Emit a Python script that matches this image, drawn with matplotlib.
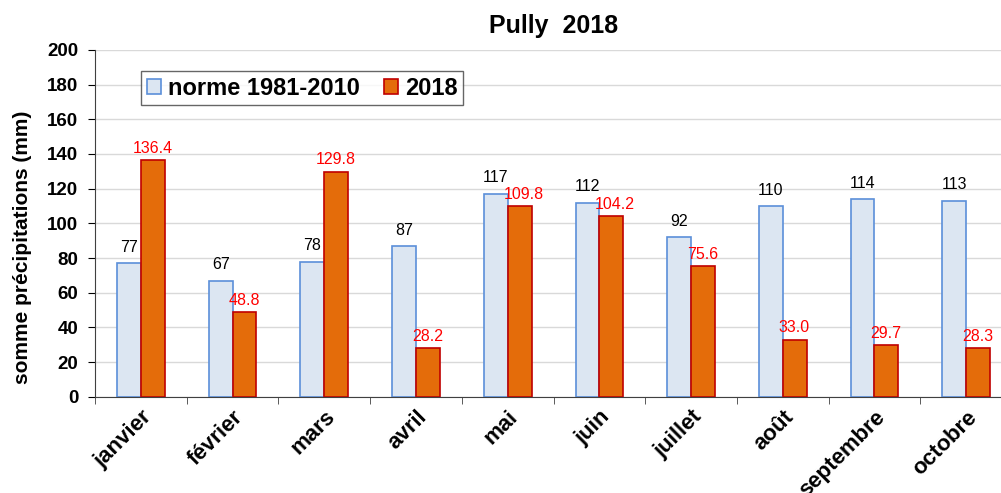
import matplotlib.pyplot as plt
import numpy as np

mois = ['janvier', 'février', 'mars', 'avril', 'mai', 'juin',
        'juillet', 'août', 'septembre', 'octobre']
norme = [77, 67, 78, 87, 117, 112, 92, 110, 114, 113]
annee_2018 = [136.4, 48.8, 129.8, 28.2, 109.8, 104.2, 75.6, 33.0, 29.7, 28.3]

plt.rcParams['font.family'] = ['Liberation Sans', 'DejaVu Sans']

fig = plt.figure(figsize=(10.01, 4.93), dpi=100)
ax = fig.add_axes([0.095, 0.195, 0.916, 0.704])

x = np.arange(len(mois))
w = 0.26
ax.bar(x - w / 2, norme, w, color='#dce6f2', edgecolor='#5b8fd9',
       linewidth=1.2, label='norme 1981-2010')
ax.bar(x + w / 2, annee_2018, w, color='#e46c0a', edgecolor='#c00000',
       linewidth=1.2, label='2018')

# étiquettes de valeurs
for i in range(len(mois)):
    ax.annotate(f'{norme[i]:g}', (x[i] - w / 2, norme[i]), xytext=(0, 6),
                textcoords='offset points', ha='center', va='bottom',
                fontsize=11.5, color='black')
    if annee_2018[i] < norme[i]:
        ax.annotate(f'{annee_2018[i]:.1f}', (x[i], annee_2018[i]), xytext=(-3, 3),
                    textcoords='offset points', ha='left', va='bottom',
                    fontsize=11.5, color='#ff0000')
    else:
        ax.annotate(f'{annee_2018[i]:.1f}', (x[i] + w / 2, annee_2018[i]), xytext=(0, 3),
                    textcoords='offset points', ha='center', va='bottom',
                    fontsize=11.5, color='#ff0000')

ax.set_ylim(0, 200)
ax.set_yticks(np.arange(0, 201, 20))
ax.set_xlim(-0.5, len(mois) - 0.5)
ax.set_xticks(x)
ax.set_xticklabels(mois, rotation=45, ha='right', rotation_mode='anchor',
                   fontsize=16, fontweight='bold')
ax.set_xticks(np.arange(-0.5, len(mois), 1), minor=True)
ax.tick_params(axis='x', which='major', length=0, pad=7)
ax.tick_params(axis='x', which='minor', length=5, color='#404040')
ax.tick_params(axis='y', length=5, labelsize=13.5, pad=7)
for lab in ax.get_yticklabels():
    lab.set_fontweight('bold')

ax.set_ylabel('somme précipitations (mm)', fontsize=15, fontweight='bold')
ax.yaxis.set_label_coords(-0.069, 0.43)
ax.set_title('Pully  2018', fontsize=18, fontweight='bold', pad=12, x=0.5)

ax.set_axisbelow(True)
ax.yaxis.grid(color='#d9d9d9', linewidth=1)
ax.spines['top'].set_visible(False)
ax.spines['right'].set_visible(False)
ax.spines['left'].set_color('#404040')
ax.spines['bottom'].set_color('#404040')

leg = ax.legend(loc='upper left', bbox_to_anchor=(0.05, 0.94), ncol=2,
                prop={'weight': 'bold', 'size': 17}, frameon=True, fancybox=False,
                handlelength=0.6, handleheight=0.6, handletextpad=0.3,
                columnspacing=1.0, borderpad=0.25, borderaxespad=0)
leg.get_frame().set_edgecolor('#404040')
leg.get_frame().set_linewidth(1)

fig.savefig('out.png', dpi=100)
